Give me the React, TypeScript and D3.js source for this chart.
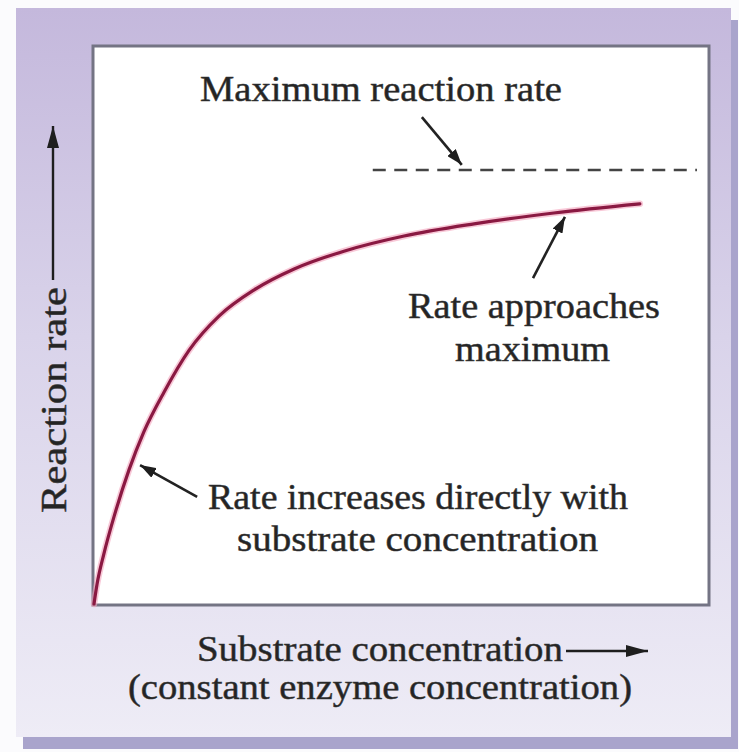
import React, { useEffect, useRef } from 'react';
import * as d3 from 'd3';

// substrate concentration, 0-100 across the plot box
const substrate = [0, 0.5, 1.6, 3.3, 5.7, 8.1, 11.4, 15.5, 20.4, 26.1, 32.6, 40.7, 50.5, 61.9, 74.9, 88.9];
// reaction rate, 100 = maximum reaction rate
const rate = [0, 4.6, 11.5, 20.3, 30.9, 39.6, 48.8, 58.5, 66.4, 72.4, 77.2, 81.3, 84.8, 87.6, 90.1, 92.2];
const maxRate = 100;
const maxLineStart = 45.4;
const maxLineEnd = 98.2;

// annotation pointers (data units): start and tip
const pointerStart = [[53.4, 112.2], [71.5, 75.1], [16.8, 24.7]];
const pointerTip = [[59.9, 101.2], [76.7, 89.2], [7.5, 32.0]];

const labelTexts = [
  'Maximum reaction rate',
  'Rate approaches',
  'maximum',
  'Rate increases directly with',
  'substrate concentration',
];
const xTitle = ['Substrate concentration', '(constant enzyme concentration)'];
const yTitle = 'Reaction rate';

const W = 739, H = 752;

export default function App() {
  const ref = useRef<SVGSVGElement>(null);

  useEffect(() => {
    const svg = d3.select(ref.current);
    svg.selectAll('*').remove();

    const box = { left: 93, top: 46, right: 709, bottom: 605 };
    const x = d3.scaleLinear().domain([0, 100]).range([box.left + 1, box.right - 1]);
    const y = d3.scaleLinear().domain([0, maxRate]).range([box.bottom - 1, 170]);

    const defs = svg.append('defs');
    const grad = defs.append('linearGradient').attr('id', 'panelGrad')
      .attr('x1', 0).attr('y1', 0).attr('x2', 0).attr('y2', 1);
    grad.append('stop').attr('offset', '0%').attr('stop-color', '#c4b8dc');
    grad.append('stop').attr('offset', '45%').attr('stop-color', '#d9d3ea');
    grad.append('stop').attr('offset', '100%').attr('stop-color', '#eeecf6');

    const mk = (id: string, len: number, half: number) => {
      defs.append('marker').attr('id', id)
        .attr('markerUnits', 'userSpaceOnUse')
        .attr('viewBox', `0 ${-half} ${len} ${half * 2}`)
        .attr('refX', len).attr('refY', 0)
        .attr('markerWidth', len).attr('markerHeight', half * 2)
        .attr('orient', 'auto')
        .append('path').attr('d', `M0,${-half}L${len},0L0,${half}Z`).attr('fill', '#1e1e1e');
    };
    mk('bigHead', 22, 6);
    mk('smallHead', 16, 5.5);

    svg.append('rect').attr('width', W).attr('height', H).attr('fill', '#fbfbfd');

    // panel + shadow
    svg.append('rect').attr('x', 23).attr('y', 20).attr('width', 715).attr('height', 729).attr('fill', '#a9a4cc');
    svg.append('rect').attr('x', 16).attr('y', 8).attr('width', 715).attr('height', 729).attr('fill', 'url(#panelGrad)');

    // plot box
    svg.append('rect')
      .attr('x', box.left).attr('y', box.top)
      .attr('width', box.right - box.left).attr('height', box.bottom - box.top)
      .attr('fill', '#ffffff').attr('stroke', '#747484').attr('stroke-width', 3);

    const g = svg.append('g');

    // maximum rate line
    g.append('line')
      .attr('x1', x(maxLineStart)).attr('x2', x(maxLineEnd))
      .attr('y1', y(maxRate)).attr('y2', y(maxRate))
      .attr('stroke', '#444').attr('stroke-width', 2.6)
      .attr('stroke-dasharray', '13 8.5');

    // curve
    const pts = substrate.map((s, i) => [s, rate[i]] as [number, number]);
    const line = d3.line<[number, number]>()
      .x(d => x(d[0])).y(d => y(d[1]))
      .curve(d3.curveMonotoneX);
    g.append('path').attr('d', line(pts)).attr('fill', 'none')
      .attr('stroke', '#f3a3bd').attr('stroke-width', 6.5).attr('stroke-opacity', 0.6)
      .attr('stroke-linecap', 'round');
    g.append('path').attr('d', line(pts)).attr('fill', 'none')
      .attr('stroke', '#8a1942').attr('stroke-width', 3.2)
      .attr('stroke-linecap', 'round');

    // pointers
    g.selectAll('.pointer').data(pointerStart).join('line')
      .attr('class', 'pointer')
      .attr('x1', d => x(d[0])).attr('y1', d => y(d[1]))
      .attr('x2', (d, i) => x(pointerTip[i][0])).attr('y2', (d, i) => y(pointerTip[i][1]))
      .attr('stroke', '#222').attr('stroke-width', 2.6)
      .attr('marker-end', 'url(#smallHead)');

    const font = '"Liberation Serif", "Times New Roman", serif';
    const textStyle = (sel: any) => sel
      .style('font-family', font).style('font-size', '36px')
      .attr('fill', '#242424').attr('stroke', '#3a3a3a').attr('stroke-width', 0.5);

    const labelPos = [
      { x: 200, y: 101, len: 362 },
      { x: 408, y: 318, len: 252 },
      { x: 455, y: 361, len: 155 },
      { x: 208, y: 509, len: 420 },
      { x: 237, y: 551, len: 361 },
    ];
    g.selectAll('.label').data(labelTexts).join('text')
      .attr('class', 'label')
      .attr('x', (d, i) => labelPos[i].x).attr('y', (d, i) => labelPos[i].y)
      .attr('textLength', (d, i) => labelPos[i].len)
      .attr('lengthAdjust', 'spacingAndGlyphs')
      .call(textStyle)
      .text(d => d);

    // x title
    const xPos = [{ x: 197, y: 661, len: 366 }, { x: 128, y: 699, len: 504 }];
    svg.selectAll('.xtitle').data(xTitle).join('text')
      .attr('class', 'xtitle')
      .attr('x', (d, i) => xPos[i].x).attr('y', (d, i) => xPos[i].y)
      .attr('textLength', (d, i) => xPos[i].len)
      .attr('lengthAdjust', 'spacingAndGlyphs')
      .call(textStyle)
      .text(d => d);
    svg.append('line').attr('x1', 566).attr('x2', 648).attr('y1', 651).attr('y2', 651)
      .attr('stroke', '#1e1e1e').attr('stroke-width', 2.4).attr('marker-end', 'url(#bigHead)');

    // y title
    svg.append('text')
      .attr('transform', 'translate(66,513) rotate(-90)')
      .attr('textLength', 226).attr('lengthAdjust', 'spacingAndGlyphs')
      .call(textStyle)
      .text(yTitle);
    svg.append('line').attr('x1', 53).attr('x2', 53).attr('y1', 280).attr('y2', 126)
      .attr('stroke', '#1e1e1e').attr('stroke-width', 2.4).attr('marker-end', 'url(#bigHead)');
  }, []);

  return (
    <svg ref={ref} width={W} height={H}
      style={{ position: 'absolute', left: 0, top: 0, display: 'block' }} />
  );
}
